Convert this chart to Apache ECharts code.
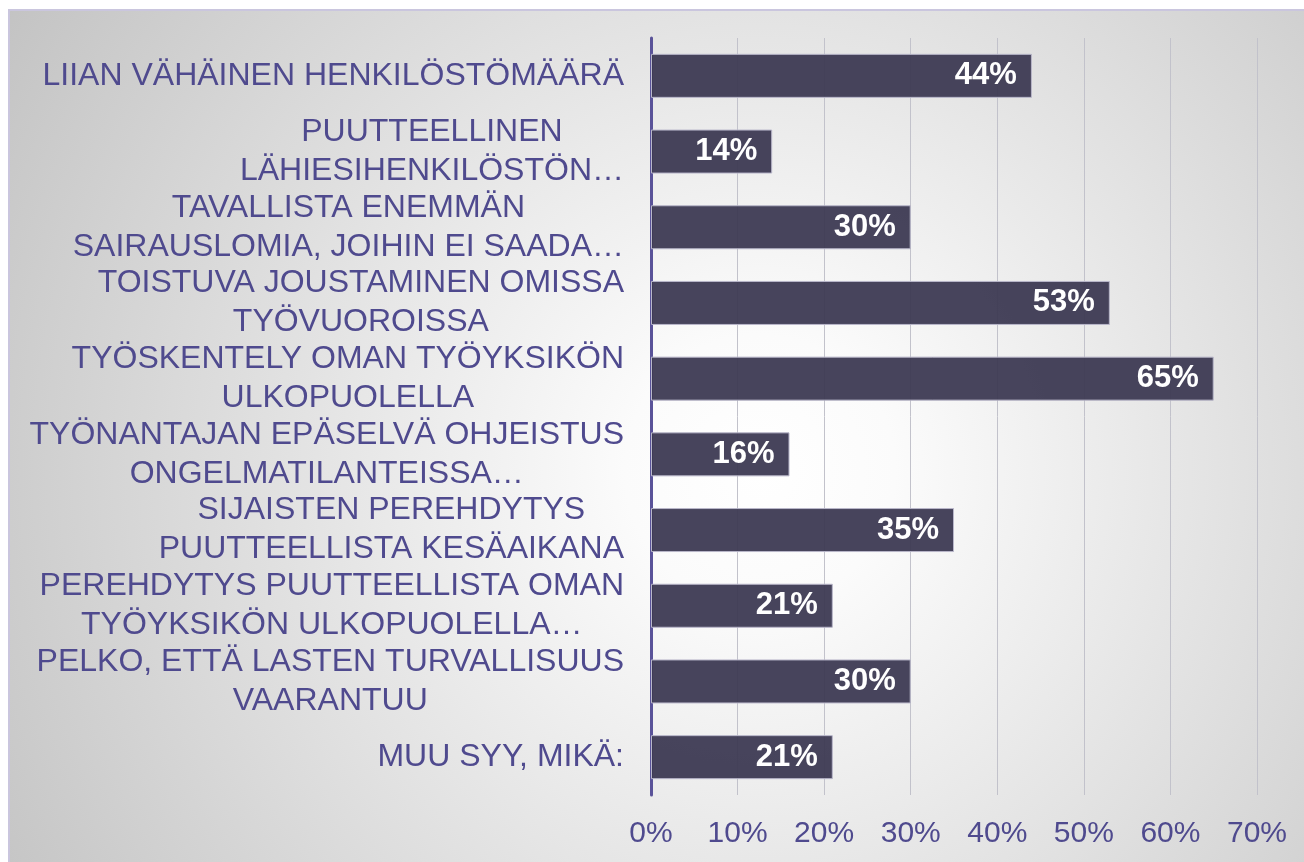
<!DOCTYPE html>
<html>
<head>
<meta charset="utf-8">
<script src="https://cdn.jsdelivr.net/npm/echarts@6/dist/echarts.min.js"></script>
<style>
  html, body { margin: 0; padding: 0; background: #fff; }
  #chart { width: 1304px; height: 862px; }
</style>
</head>
<body>
<div id="chart"></div>
<script>
var categories = [
  'LIIAN VÄHÄINEN HENKILÖSTÖMÄÄRÄ',
  'PUUTTEELLINEN\nLÄHIESIHENKILÖSTÖN…',
  'TAVALLISTA ENEMMÄN\nSAIRAUSLOMIA, JOIHIN EI SAADA…',
  'TOISTUVA JOUSTAMINEN OMISSA\nTYÖVUOROISSA',
  'TYÖSKENTELY OMAN TYÖYKSIKÖN\nULKOPUOLELLA',
  'TYÖNANTAJAN EPÄSELVÄ OHJEISTUS\nONGELMATILANTEISSA…',
  'SIJAISTEN PEREHDYTYS\nPUUTTEELLISTA KESÄAIKANA',
  'PEREHDYTYS PUUTTEELLISTA OMAN\nTYÖYKSIKÖN ULKOPUOLELLA…',
  'PELKO, ETTÄ LASTEN TURVALLISUUS\nVAARANTUU',
  'MUU SYY, MIKÄ:'
]
var values = [44, 14, 30, 53, 65, 16, 35, 21, 30, 21]
var xMax = 70
var xStep = 10

var textColor = '#4f4a8e'
var font = '"Liberation Sans", Arial, sans-serif'

var chart = echarts.init(document.getElementById('chart'))
chart.setOption({
  backgroundColor: '#ffffff',
  animation: false,
  graphic: [{
    type: 'rect',
    z: -10,
    silent: true,
    shape: { x: 9, y: 10, width: 1400, height: 900 },
    style: {
      fill: new echarts.graphic.RadialGradient(760, 470, 900, [
        { offset: 0, color: '#ffffff' },
        { offset: 0.15, color: '#fbfbfb' },
        { offset: 1, color: '#c2c2c2' }
      ], true),
      stroke: '#cac6de',
      lineWidth: 2
    }
  }],
  grid: {
    left: 651,
    right: 47,
    top: 38,
    bottom: 67,
    containLabel: false
  },
  xAxis: {
    type: 'value',
    min: 0,
    max: xMax,
    interval: xStep,
    axisLine: { show: false },
    axisTick: { show: false },
    splitLine: {
      lineStyle: { color: '#c2c2cb', width: 1 }
    },
    axisLabel: {
      margin: 24,
      color: textColor,
      fontFamily: font,
      fontSize: 30,
      formatter: '{value}%'
    }
  },
  yAxis: {
    type: 'category',
    inverse: true,
    data: categories,
    axisLine: {
      lineStyle: { color: '#5a5399', width: 3 }
    },
    axisTick: { show: false },
    axisLabel: {
      margin: 27,
      color: textColor,
      fontFamily: font,
      fontSize: 32,
      lineHeight: 39,
      formatter: function(value) {
        return value.split('\n').map(function(s) {
          return '{c|' + s + '}'
        }).join('\n')
      },
      rich: {
        c: {
          align: 'center',
          color: textColor,
          fontFamily: font,
          fontSize: 32,
          lineHeight: 39
        }
      }
    }
  },
  series: [{
    type: 'bar',
    data: values,
    barWidth: 44,
    itemStyle: {
      color: 'rgba(60, 56, 82, 0.94)',
      borderColor: '#b9b7ca',
      borderWidth: 1
    },
    label: {
      show: true,
      position: 'insideRight',
      distance: 15,
      formatter: '{c}%',
      color: '#ffffff',
      fontFamily: font,
      fontWeight: 'bold',
      fontSize: 31
    }
  }]
})
</script>
</body>
</html>
